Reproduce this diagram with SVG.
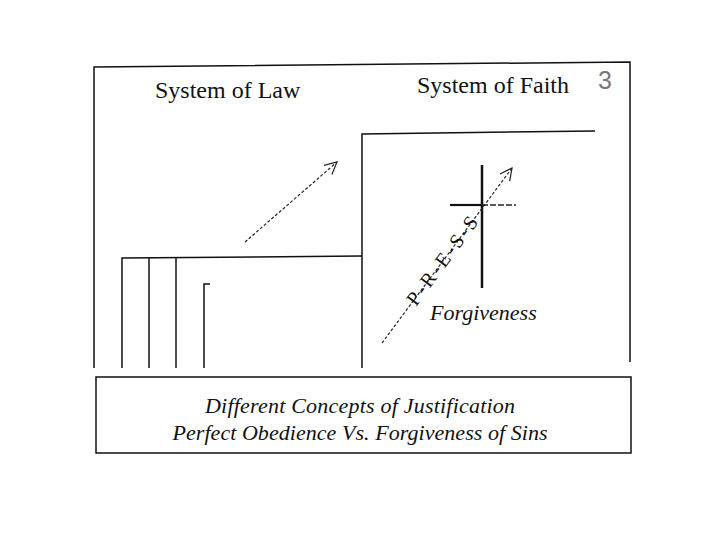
<svg xmlns="http://www.w3.org/2000/svg" width="720" height="540" viewBox="0 0 720 540">
<style>
.ln{stroke:#111;stroke-width:1.5;fill:none}
.thin{stroke:#222;stroke-width:1;fill:none}
.dash{stroke:#222;stroke-width:1.2;fill:none;stroke-dasharray:3 2}
.title{font-family:"Liberation Serif",serif;font-size:24px;fill:#111}
.it{font-family:"Liberation Serif",serif;font-style:italic;font-size:22px;fill:#111}
</style>
<defs>
<marker id="ah" markerWidth="16" markerHeight="16" refX="13" refY="8" orient="auto" markerUnits="userSpaceOnUse">
<path d="M1,2 L13,8 L1,14" fill="none" stroke="#222" stroke-width="1.2"/>
</marker>
</defs>
<rect width="720" height="540" fill="#fff"/>
<g id="frame">
<path class="ln" d="M94,368 L94,67 L630,62 L630,362"/>
</g>
<g id="law">
<text class="title" x="155" y="98">System of Law</text>
<path class="ln" d="M122,368 L122,258 L362,256"/>
<path class="ln" d="M149,368 L149,258"/>
<path class="ln" d="M176,368 L176,258"/>
<path class="ln" d="M204,368 L204,284 L210,284"/>
</g>
<g id="faith">
<text class="title" x="417" y="93">System of Faith</text>
<path class="ln" d="M362,368 L362,134 L595,131"/>
<text x="598" y="89" font-family="Liberation Sans, sans-serif" font-size="25" fill="#777">3</text>
</g>
<g id="cross">
<path d="M482,165 L482,288" stroke="#111" stroke-width="2.5"/>
<path d="M450,205 L482,205" stroke="#111" stroke-width="2.2"/>
<path d="M482,205 L516,205" stroke="#222" stroke-width="1.5" stroke-dasharray="6 2"/>
<text class="it" x="430" y="320" font-size="21.5">Forgiveness</text>
</g>
<g id="connectors">
<path class="dash" d="M245,242 L337,162" marker-end="url(#ah)"/>
<path class="dash" d="M382,343 L512,168" marker-end="url(#ah)"/>
</g>
<g id="press">
<text transform="translate(416,307) rotate(-53.4)" font-family="Liberation Serif, serif" font-size="20" fill="#111" letter-spacing="2.5">P-R-E-S-S</text>
</g>
<g id="caption">
<rect class="ln" x="96" y="377" width="535" height="76"/>
<text class="it" x="360" y="413" text-anchor="middle" font-size="23" textLength="310">Different Concepts of Justification</text>
<text class="it" x="360" y="440" text-anchor="middle" font-size="23" textLength="375">Perfect Obedience Vs. Forgiveness of Sins</text>
</g>
</svg>
